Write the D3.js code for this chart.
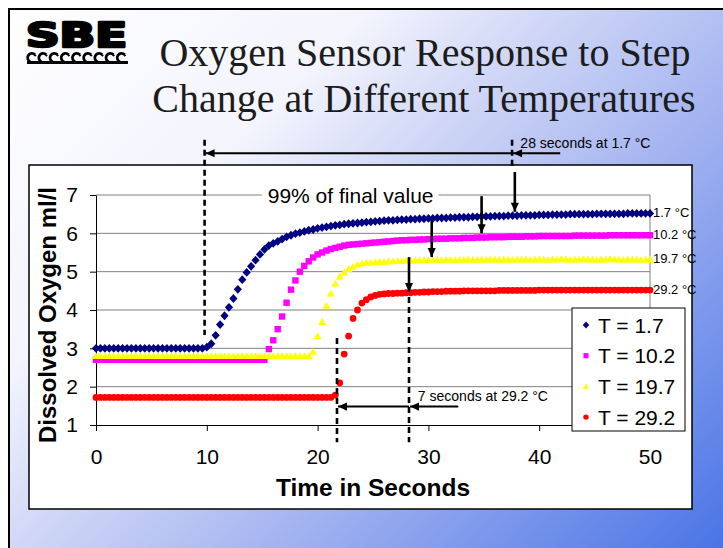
<!DOCTYPE html>
<html>
<head>
<meta charset="utf-8">
<script src="https://cdn.jsdelivr.net/npm/d3@7"></script>
<style>
    body { margin: 0; background: #fff; }
    svg { display: block; }
    text { font-family: "Liberation Sans", Arial, sans-serif; }
</style>
</head>
<body>
<div id="chart"></div>
<script>
// series, one sample every 0.4 s from t = 0 to 50 s
const timeStep = 0.4;
const seriesNames = ["T = 1.7", "T = 10.2", "T = 19.7", "T = 29.2"];
const endLabels = ["1.7 °C", "10.2 °C", "19.7 °C", "29.2 °C"];
const colors = ["#000080", "#ff00ff", "#ffff00", "#ff0000"];

const o2At1_7 = [
    3.0, 3.0, 3.0, 3.0, 3.0, 3.0, 3.0, 3.0, 3.0, 3.0,
    3.0, 3.0, 3.0, 3.0, 3.0, 3.0, 3.0, 3.0, 3.0, 3.0,
    3.0, 3.0, 3.0, 3.0, 3.0,
    3.03, 3.12, 3.34, 3.62, 3.85, 4.07, 4.3, 4.54, 4.79, 4.98,
    5.14, 5.3, 5.45, 5.58, 5.68, 5.74, 5.79, 5.85, 5.91, 5.95,
    5.99, 6.02, 6.05, 6.08, 6.1, 6.13, 6.15, 6.17, 6.19, 6.21,
    6.22, 6.24, 6.25, 6.26, 6.27, 6.28, 6.29, 6.3, 6.31, 6.32,
    6.33, 6.34, 6.34, 6.35, 6.36, 6.36, 6.37, 6.37, 6.38, 6.38,
    6.39, 6.39, 6.4, 6.4, 6.4, 6.41, 6.41, 6.42, 6.42, 6.42,
    6.43, 6.43, 6.44, 6.44, 6.44, 6.45, 6.45, 6.45, 6.46, 6.46,
    6.46, 6.47, 6.47, 6.47, 6.47, 6.48, 6.48, 6.48, 6.49, 6.49,
    6.49, 6.49, 6.5, 6.5, 6.5, 6.5, 6.5, 6.5, 6.51, 6.51,
    6.51, 6.51, 6.51, 6.51, 6.51, 6.52, 6.52, 6.52, 6.52, 6.52, 6.52
];
const o2At10_2 = [
    2.7, 2.7, 2.7, 2.7, 2.7, 2.7, 2.7, 2.7, 2.7, 2.7,
    2.7, 2.7, 2.7, 2.7, 2.7, 2.7, 2.7, 2.7, 2.7, 2.7,
    2.7, 2.7, 2.7, 2.7, 2.7, 2.7, 2.7, 2.7, 2.7, 2.7,
    2.7, 2.7, 2.7, 2.7, 2.7, 2.7, 2.7, 2.7, 2.7,
    2.98, 3.21, 3.5, 3.83, 4.19, 4.53, 4.77, 5.0, 5.15, 5.27,
    5.37, 5.45, 5.5, 5.55, 5.59, 5.62, 5.65, 5.68, 5.7, 5.71,
    5.72, 5.73, 5.74, 5.75, 5.76, 5.77, 5.78, 5.79, 5.8, 5.81,
    5.82, 5.82, 5.83, 5.83, 5.84, 5.84, 5.85, 5.85, 5.86, 5.86,
    5.86, 5.87, 5.87, 5.87, 5.88, 5.88, 5.88, 5.89, 5.89, 5.89,
    5.9, 5.9, 5.9, 5.9, 5.91, 5.91, 5.91, 5.91, 5.92, 5.92,
    5.92, 5.93, 5.93, 5.93, 5.93, 5.93, 5.93, 5.93, 5.93, 5.94,
    5.94, 5.94, 5.94, 5.94, 5.94, 5.94, 5.94, 5.95, 5.95, 5.95,
    5.95, 5.95, 5.95, 5.95, 5.95, 5.95, 5.95
];
const o2At19_7 = [
    2.8, 2.8, 2.8, 2.8, 2.8, 2.8, 2.8, 2.8, 2.8, 2.8,
    2.8, 2.8, 2.8, 2.8, 2.8, 2.8, 2.8, 2.8, 2.8, 2.8,
    2.8, 2.8, 2.8, 2.8, 2.8, 2.8, 2.8, 2.8, 2.8, 2.8,
    2.8, 2.8, 2.8, 2.8, 2.8, 2.8, 2.8, 2.8, 2.8, 2.8,
    2.8, 2.8, 2.8, 2.8, 2.8, 2.8, 2.8, 2.8, 2.8,
    2.91, 3.32, 3.69, 4.11, 4.43, 4.69, 4.87, 4.98, 5.07, 5.13,
    5.18, 5.21, 5.23, 5.24, 5.25, 5.26, 5.26, 5.27, 5.27, 5.28,
    5.28, 5.29, 5.29, 5.29, 5.3, 5.3, 5.3, 5.3, 5.31, 5.3,
    5.31, 5.31, 5.3, 5.31, 5.31, 5.32, 5.31, 5.31, 5.32, 5.31,
    5.32, 5.32, 5.31, 5.32, 5.32, 5.31, 5.32, 5.32, 5.32, 5.31,
    5.32, 5.32, 5.32, 5.31, 5.32, 5.32, 5.33, 5.32, 5.31, 5.32,
    5.32, 5.33, 5.32, 5.32, 5.31, 5.32, 5.32, 5.33, 5.32, 5.32,
    5.31, 5.32, 5.32, 5.32, 5.31, 5.32, 5.32
];
const o2At29_2 = [
    1.72, 1.72, 1.72, 1.72, 1.72, 1.72, 1.72, 1.72, 1.72, 1.72,
    1.72, 1.72, 1.72, 1.72, 1.72, 1.72, 1.72, 1.72, 1.72, 1.72,
    1.72, 1.72, 1.72, 1.72, 1.72, 1.72, 1.72, 1.72, 1.72, 1.72,
    1.72, 1.72, 1.72, 1.72, 1.72, 1.72, 1.72, 1.72, 1.72, 1.72,
    1.72, 1.72, 1.72, 1.72, 1.72, 1.72, 1.72, 1.72, 1.72, 1.72,
    1.72, 1.72, 1.72, 1.72,
    1.78, 2.1, 2.85, 3.32, 3.78, 4.0, 4.18, 4.27, 4.34, 4.38,
    4.41, 4.42, 4.43, 4.43, 4.44, 4.44, 4.45, 4.45, 4.46, 4.46,
    4.47, 4.47, 4.48, 4.48, 4.48, 4.49, 4.49, 4.49, 4.49, 4.5,
    4.5, 4.5, 4.5, 4.5, 4.5, 4.5, 4.5, 4.51, 4.51, 4.51,
    4.51, 4.51, 4.51, 4.51, 4.51, 4.51, 4.52, 4.52, 4.52, 4.52,
    4.52, 4.52, 4.52, 4.52, 4.52, 4.52, 4.52, 4.52, 4.52, 4.52,
    4.52, 4.52, 4.52, 4.52, 4.52, 4.52, 4.52, 4.52, 4.52, 4.52,
    4.52, 4.52
];
const allSeries = [o2At1_7, o2At10_2, o2At19_7, o2At29_2];

const xTicks = [0, 10, 20, 30, 40, 50];
const yTicks = [1, 2, 3, 4, 5, 6, 7];

// annotations in data units (seconds, ml/l)
const dashedLines = [
    {t: 9.8, v0: 8.44, v1: 3.35},
    {t: 37.55, v0: 8.44, v1: 7.76},
    {t: 21.75, v0: 3.27, v1: 0.55},
    {t: 28.25, v0: 4.34, v1: 0.55}
];
const downArrows = [
    {t: 37.8, v0: 7.6, v1: 6.56},
    {t: 34.8, v0: 6.97, v1: 6.0},
    {t: 30.3, v0: 6.35, v1: 5.38},
    {t: 28.25, v0: 5.38, v1: 4.47}
];
const sideArrows = [
    {v: 8.09, t0: 41.9, t1: 37.55},
    {v: 8.09, t0: 37.55, t1: 9.8},
    {v: 1.48, t0: 32.7, t1: 28.25},
    {v: 1.48, t0: 28.25, t1: 21.75}
];
const notes = [
    {t: 38.3, v: 8.23, text: "28 seconds at 1.7 °C"},
    {t: 29.05, v: 1.63, text: "7 seconds at 29.2 °C"}
];

let width = 723
let height = 548

let svg = d3.select("#chart").append("svg")
    .attr("width", width)
    .attr("height", height);

let defs = svg.append("defs");

let grad = defs.append("linearGradient")
    .attr("id", "slidebg")
    .attr("gradientUnits", "userSpaceOnUse")
    .attr("x1", 0).attr("y1", 0)
    .attr("x2", 635).attr("y2", 635);
[[0, "#ffffff"], [0.3, "#f3f4fd"], [0.45, "#cfd6f6"], [0.65, "#a3b3f0"], [1, "#4a74e6"]]
    .forEach(s => grad.append("stop").attr("offset", s[0]).attr("stop-color", s[1]));

defs.append("marker")
    .attr("id", "head")
    .attr("viewBox", "0 0 10 10")
    .attr("refX", 10).attr("refY", 5)
    .attr("markerUnits", "userSpaceOnUse")
    .attr("markerWidth", 10).attr("markerHeight", 9)
    .attr("orient", "auto")
    .append("path")
    .attr("d", "M0,0.5L10,5L0,9.5Z")
    .attr("fill", "#000");

// slide background and border
svg.append("rect")
    .attr("width", width).attr("height", height)
    .attr("fill", "#fff");
svg.append("rect")
    .attr("x", 9).attr("y", 9)
    .attr("width", width + 20).attr("height", height + 20)
    .attr("fill", "url(#slidebg)")
    .attr("stroke", "#000")
    .attr("stroke-width", 2);

// SBE logo
let logo = svg.append("g");
logo.append("text")
    .attr("x", 26).attr("y", 47)
    .attr("textLength", 101)
    .attr("lengthAdjust", "spacingAndGlyphs")
    .style("font-family", "'DejaVu Sans', sans-serif")
    .style("font-weight", "bold")
    .style("font-size", "33px")
    .attr("stroke", "#000")
    .attr("stroke-width", 2.6)
    .attr("stroke-linejoin", "round")
    .text("SBE");
let wavePath = d3.path();
for (let i = 0; i < 9; i++) {
    let cx = 32 + i * 11.2;
    wavePath.moveTo(cx + 3.6, 54.2);
    wavePath.arc(cx, 57.8, 4.4, -Math.PI / 4, Math.PI * 0.6, true);
}
wavePath.moveTo(27, 62.5);
wavePath.lineTo(128, 62.5);
logo.append("path")
    .attr("d", wavePath.toString())
    .attr("fill", "none")
    .attr("stroke", "#000")
    .attr("stroke-width", 2.8);

// title
let title = svg.append("text")
    .attr("text-anchor", "middle")
    .style("font-family", "'Liberation Serif', 'Times New Roman', serif")
    .style("font-size", "40px")
    .attr("fill", "#1c1c1c");
title.append("tspan").attr("x", 425).attr("y", 66).text("Oxygen Sensor Response to Step");
title.append("tspan").attr("x", 424).attr("y", 112).text("Change at Different Temperatures");

// chart area
svg.append("rect")
    .attr("x", 29).attr("y", 165)
    .attr("width", 663).attr("height", 344)
    .attr("fill", "#fff")
    .attr("stroke", "#000")
    .attr("stroke-width", 1.5);

let x = d3.scaleLinear().domain([0, 50]).range([96, 650]);
let y = d3.scaleLinear().domain([1, 7]).range([425, 195]);

let grid = svg.append("g").attr("id", "grid");
grid.selectAll("line")
    .data(yTicks.slice(1))
    .enter().append("line")
    .attr("x1", x(0)).attr("x2", x(50))
    .attr("y1", d => y(d)).attr("y2", d => y(d))
    .attr("stroke", "#808080")
    .attr("stroke-width", 1);
grid.append("line")
    .attr("x1", x(50)).attr("x2", x(50))
    .attr("y1", y(7)).attr("y2", y(1))
    .attr("stroke", "#808080");

let xAxis = svg.append("g")
    .attr("transform", "translate(0," + y(1) + ")")
    .call(d3.axisBottom(x).tickValues(xTicks).tickFormat(d3.format("d"))
        .tickSize(6).tickSizeOuter(0).tickPadding(18));
let yAxis = svg.append("g")
    .attr("transform", "translate(" + x(0) + ",0)")
    .call(d3.axisLeft(y).tickValues(yTicks).tickFormat(d3.format("d"))
        .tickSize(6).tickSizeOuter(0).tickPadding(12));
[xAxis, yAxis].forEach(a => {
    a.selectAll("path, line").attr("stroke", "#000");
    a.selectAll("text")
        .style("font-family", "'Liberation Sans', Arial, sans-serif")
        .style("font-size", "21px")
        .attr("fill", "#000");
});

svg.append("text")
    .attr("x", 373).attr("y", 496)
    .attr("text-anchor", "middle")
    .style("font-size", "24.5px")
    .style("font-weight", "bold")
    .text("Time in Seconds");
svg.append("text")
    .attr("transform", "translate(56,315) rotate(-90)")
    .attr("text-anchor", "middle")
    .style("font-size", "24px")
    .style("font-weight", "bold")
    .text("Dissolved Oxygen ml/l");

// marker shapes for each series
let shapes = [
    s => `M0,${-4.4 * s}L${4.1 * s},0L0,${4.4 * s}L${-4.1 * s},0Z`,
    s => `M${-3.2 * s},${-3.2 * s}h${6.4 * s}v${6.4 * s}h${-6.4 * s}Z`,
    s => `M0,${-3.8 * s}L${4 * s},${3 * s}L${-4 * s},${3 * s}Z`,
    s => `M${3.4 * s},0A${3.4 * s},${3.4 * s} 0 1,1 ${-3.4 * s},0A${3.4 * s},${3.4 * s} 0 1,1 ${3.4 * s},0Z`
];

let plot = svg.append("g").attr("id", "series");
allSeries.forEach((vals, si) => {
    plot.append("g")
        .selectAll("path")
        .data(vals)
        .enter().append("path")
        .attr("d", shapes[si](1))
        .attr("transform", (d, i) => "translate(" + x(i * timeStep) + "," + y(d) + ")")
        .attr("fill", colors[si]);
});

// labels at the end of each trace
svg.append("g").selectAll("text")
    .data(allSeries)
    .enter().append("text")
    .attr("x", d => x((d.length - 1) * timeStep) + 3)
    .attr("y", d => y(d[d.length - 1]) - 1)
    .attr("dy", "0.35em")
    .style("font-size", "13px")
    .text((d, i) => endLabels[i]);

// legend
let legend = svg.append("g").attr("transform", "translate(572,308)");
legend.append("rect")
    .attr("width", 113).attr("height", 123)
    .attr("fill", "#fff")
    .attr("stroke", "#000")
    .attr("stroke-width", 1);
let rows = legend.selectAll("g.row")
    .data(seriesNames)
    .enter().append("g")
    .attr("transform", (d, i) => "translate(14," + (17 + i * 30.7) + ")");
rows.append("path")
    .attr("d", (d, i) => shapes[i](0.8))
    .attr("fill", (d, i) => colors[i]);
rows.append("text")
    .attr("x", 12)
    .attr("dy", "0.36em")
    .style("font-size", "21px")
    .text(d => d);

// annotations
let notesG = svg.append("g").attr("id", "notes");
let label99 = notesG.append("text")
    .attr("x", x(15.5)).attr("y", y(6.79))
    .style("font-size", "21px")
    .text("99% of final value");
let bb = label99.node().getBBox();
notesG.insert("rect", "text")
    .attr("x", bb.x - 6).attr("y", bb.y + 2)
    .attr("width", bb.width + 11).attr("height", bb.height - 4)
    .attr("fill", "#fff");

notesG.selectAll("line.dash")
    .data(dashedLines)
    .enter().append("line")
    .attr("class", "dash")
    .attr("x1", d => x(d.t)).attr("x2", d => x(d.t))
    .attr("y1", d => y(d.v0)).attr("y2", d => y(d.v1))
    .attr("stroke", "#000")
    .attr("stroke-width", 2.6)
    .attr("stroke-dasharray", "6,4");

notesG.selectAll("line.down")
    .data(downArrows)
    .enter().append("line")
    .attr("class", "down")
    .attr("x1", d => x(d.t)).attr("x2", d => x(d.t))
    .attr("y1", d => y(d.v0)).attr("y2", d => y(d.v1))
    .attr("stroke", "#000")
    .attr("stroke-width", 2.6)
    .attr("marker-end", "url(#head)");

notesG.selectAll("line.side")
    .data(sideArrows)
    .enter().append("line")
    .attr("class", "side")
    .attr("x1", d => x(d.t0)).attr("x2", d => x(d.t1) + 1)
    .attr("y1", d => y(d.v)).attr("y2", d => y(d.v))
    .attr("stroke", "#000")
    .attr("stroke-width", 2)
    .attr("marker-end", "url(#head)");

notesG.selectAll("text.note")
    .data(notes)
    .enter().append("text")
    .attr("class", "note")
    .attr("x", d => x(d.t)).attr("y", d => y(d.v))
    .style("font-size", "14px")
    .text(d => d.text);
</script>
</body>
</html>
